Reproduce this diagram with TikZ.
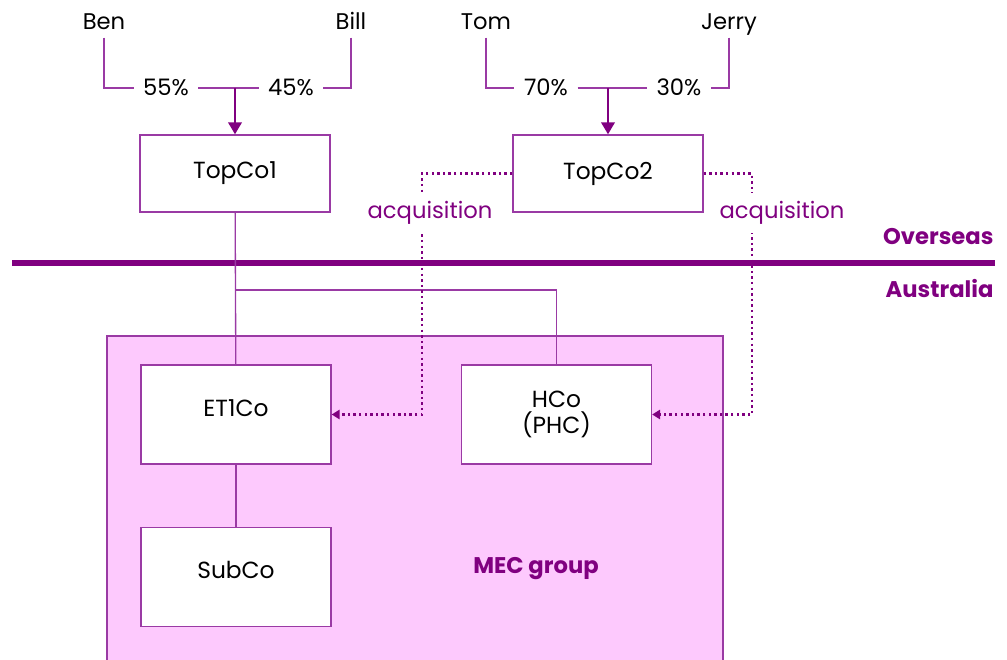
\documentclass[tikz,border=0pt]{standalone}
\usepackage{fontspec}
\setmainfont{Poppins}
\usetikzlibrary{arrows.meta,positioning}
\definecolor{Plum}{HTML}{800080}
\definecolor{BoxLine}{HTML}{9A3AA4}
\definecolor{Pink}{HTML}{FDC9FD}
\tikzset{
  entity/.style={draw=BoxLine,fill=white,line width=1pt,minimum width=142.5pt,align=center,font=\fontsize{17.5}{20}\selectfont},
  topbox/.style={entity,minimum height=57.75pt},
  lowbox/.style={entity,minimum height=74.25pt},
  owner/.style={font=\fontsize{17}{20}\selectfont,inner sep=2pt,text height=12pt,text depth=4pt},
  share/.style={font=\fontsize{17}{20}\selectfont,inner xsep=7pt,inner ysep=2pt,text height=12pt,text depth=1pt},
  group/.style={draw=BoxLine,fill=Pink,line width=0.8pt,minimum width=462pt,minimum height=258pt},
  grouplabel/.style={font=\fontsize{17}{20}\selectfont\bfseries,text=Plum},
  region/.style={font=\fontsize{17}{20}\selectfont\bfseries,text=Plum,inner sep=1pt},
  acqlabel/.style={fill=white,font=\fontsize{17}{20}\selectfont,text=Plum,inner xsep=3pt,inner ysep=6pt},
  own/.style={draw=BoxLine,line width=1.1pt},
  ownarrow/.style={-{Triangle[length=9pt,width=10pt]},draw=Plum,line width=2pt},
  link/.style={draw=BoxLine,line width=1pt},
  acq/.style={-{Triangle[length=6pt,width=7pt]},draw=Plum,line width=2.2pt,dash pattern=on 1.8pt off 2.4pt},
  divider/.style={draw=Plum,line width=4.5pt}
}

\begin{document}
\begin{tikzpicture}[x=0.75pt,y=-0.75pt]
  \useasboundingbox (0,0) rectangle (1007,660);
  % Australian group
  \node[group] (mec) at (415,508) {};
  \node[grouplabel] (meclabel) at (536,569) {MEC group};
  % overseas / australia split
  \draw[divider] (12,263) -- (995,263);
  \node[region,anchor=east] (overseas) at (995,237) {Overseas};
  \node[region,anchor=east] (australia) at (995,289) {Australia};
  % owners
  \node[owner] (ben) at (104,24) {Ben};
  \node[owner] (bill) at (351,24) {Bill};
  \node[owner] (tom) at (486,24) {Tom};
  \node[owner] (jerry) at (729,24) {Jerry};
  \node[share] (s55) at (166,88) {55\%};
  \node[share] (s45) at (291,88) {45\%};
  \node[share] (s70) at (546,88) {70\%};
  \node[share] (s30) at (679,88) {30\%};
  \coordinate (j1) at (235,88);
  \coordinate (j2) at (608,88);
  % companies
  \node[topbox] (topco1) at (235,173.5) {TopCo1};
  \node[topbox] (topco2) at (608,173.5) {TopCo2};
  \node[lowbox,text depth=9pt] (et1co) at (236,414.5) {ET1Co};
  \node[lowbox] (hco) at (556.5,414.5) {HCo\\(PHC)};
  \node[lowbox,text depth=11pt] (subco) at (236,577) {SubCo};
  % shareholdings
  \draw[own] (ben) |- (s55);
  \draw[own] (s55) -- (s45);
  \draw[own] (bill) |- (s45);
  \draw[ownarrow] (j1) -- (topco1);
  \draw[own] (tom) |- (s70);
  \draw[own] (s70) -- (s30);
  \draw[own] (jerry) |- (s30);
  \draw[ownarrow] (j2) -- (topco2);
  % group structure
  \coordinate (hj) at (235,290);
  \draw[link] (topco1) -- (et1co);
  \draw[link] (hj) -| (hco);
  \draw[link] (et1co) -- (subco);
  % acquisitions
  \coordinate (a1) at (422,414.5);
  \coordinate (a2) at (752,414.5);
  \draw[acq] (topco2.west) -| (a1) -- (et1co.east);
  \draw[acq] (topco2.east) -| (a2) -- (hco.east);
  \node[acqlabel] (acq1) at (430,213) {acquisition};
  \node[acqlabel] (acq2) at (782,213) {acquisition};
\end{tikzpicture}
\end{document}
